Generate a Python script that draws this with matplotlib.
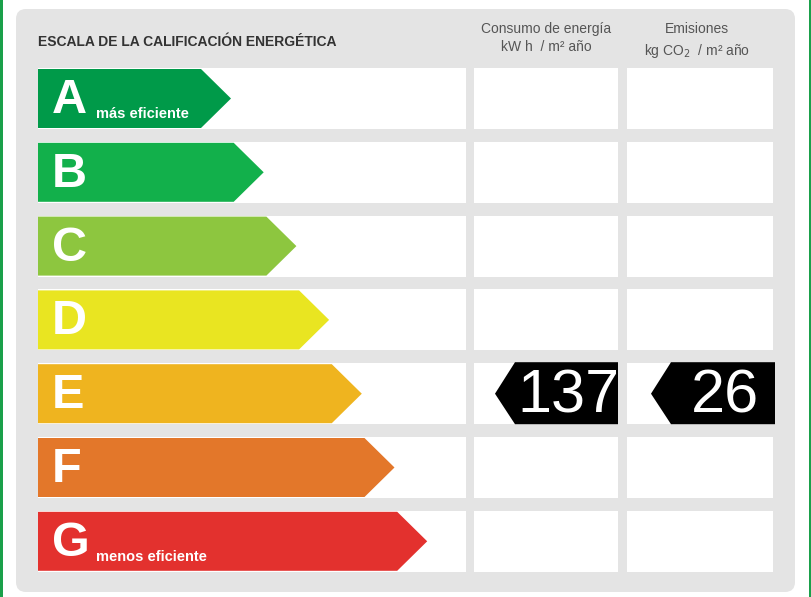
import matplotlib
matplotlib.use("Agg")
import matplotlib.pyplot as plt
from matplotlib.patches import Polygon, FancyBboxPatch, Rectangle

letters = ["A", "B", "C", "D", "E", "F", "G"]
colors = ["#009a49", "#12b04b", "#8dc63f", "#e9e521", "#efb41f", "#e3772a", "#e3312e"]
subtitles = {0: "más eficiente", 6: "menos eficiente"}
consumo_value = 137
emisiones_value = 26
rated_index = 4

fig = plt.figure(figsize=(8.12, 5.97), dpi=100)
ax = fig.add_axes([0, 0, 1, 1])
ax.set_xlim(0, 812); ax.set_ylim(597, 0); ax.axis("off")
fig.patch.set_facecolor("white")

# green outer border
ax.add_patch(Rectangle((0, -5), 3, 610, color="#1aa04a", lw=0))
ax.add_patch(Rectangle((809, -5), 3, 610, color="#1aa04a", lw=0))
# gray panel
ax.add_patch(FancyBboxPatch((16, 9), 779, 583, boxstyle="round,pad=0,rounding_size=10",
                            fc="#e4e4e4", ec="none"))

font = ["Liberation Sans", "DejaVu Sans"]
narrow = ["Liberation Sans Narrow", "Liberation Sans", "DejaVu Sans"]
ax.text(38, 42, "ESCALA DE LA CALIFICACIÓN ENERGÉTICA", fontsize=10, fontweight="bold",
        color="#333333", va="center", family=font)
ax.text(546, 38, "Consumo de energía\nkW h  / m² año", fontsize=10, color="#555555",
        ha="center", va="center", family=font, linespacing=1.3)
ax.text(697, 29, "Emisiones", fontsize=10, color="#555555", ha="center", va="center", family=font)
ax.text(697, 51, "kg CO$_2$  / m² año", fontsize=10, color="#555555", ha="center", va="center", family=font)

top0, pitch, h = 68, 73.8, 61
for i, (L, c) in enumerate(zip(letters, colors)):
    y0 = top0 + i * pitch
    ym = y0 + h / 2
    ax.add_patch(Rectangle((38, y0), 428, h, fc="white", ec="none"))
    ax.add_patch(Rectangle((474, y0), 144, h, fc="white", ec="none"))
    ax.add_patch(Rectangle((627, y0), 146, h, fc="white", ec="none"))
    tip = 231 + i * 32.7
    body = tip - 30
    ax.add_patch(Polygon([(38, y0 + 1), (body, y0 + 1), (tip, ym), (body, y0 + h - 1), (38, y0 + h - 1)],
                         closed=True, fc=c, ec="none"))
    ax.text(52, ym + 2, L, fontsize=35, fontweight="bold", color="white", va="center", family=font)
    if i in subtitles:
        ax.text(96, ym + 16, subtitles[i], fontsize=10.5, fontweight="bold", color="white",
                va="center", family=font)

y0 = top0 + rated_index * pitch
ym = y0 + h / 2
for x0, x1, val in [(495, 618, consumo_value), (651, 775, emisiones_value)]:
    ax.add_patch(Polygon([(x0, ym), (x0 + 20, y0 - 1), (x1, y0 - 1), (x1, y0 + h), (x0 + 20, y0 + h)],
                         closed=True, fc="black", ec="none"))
    ax.text((x0 + 20 + x1) / 2 + 2, ym + 3, str(val), fontsize=44, color="white",
            ha="center", va="center", family=narrow)

fig.savefig("out.png", dpi=100)
